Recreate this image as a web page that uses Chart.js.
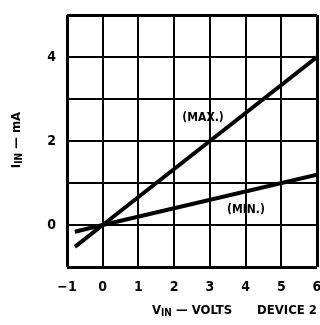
<!DOCTYPE html>
<html>
<head>
<meta charset="utf-8">
<script src="https://cdn.jsdelivr.net/npm/chart.js@4/dist/chart.umd.min.js"></script>
<style>
  html, body { margin: 0; background: #fff; }
  #wrap { width: 320px; height: 325px; }
</style>
</head>
<body>
<div id="wrap"><canvas id="chart"></canvas></div>
<script>
// curve data (volts vs mA)
const vinMax = [-0.78, 0, 6];
const iinMax = [-0.52, 0, 4];
const vinMin = [-0.78, 0, 6];
const iinMin = [-0.16, 0, 1.2];

const yTickLabels = [0, 2, 4];
const curveLabels = ['(MAX.)', '(MIN.)'];
const curveLabelAt = [[2.81, 2.54], [4.01, 0.36]];

const FONT = "'DejaVu Sans Condensed', 'DejaVu Sans', sans-serif";

const toPoints = (xs, ys) => xs.map((x, i) => ({ x: x, y: ys[i] }));

// draws a run of text parts (some subscripted) centred on cx
function drawRich(ctx, parts, cx, cy) {
    let total = 0;
    parts.forEach(p => {
        ctx.font = 'bold ' + p.size + 'px ' + FONT;
        p.w = ctx.measureText(p.t).width;
        total += p.w;
    });
    let x = cx - total / 2;
    parts.forEach(p => {
        ctx.font = 'bold ' + p.size + 'px ' + FONT;
        ctx.fillText(p.t, x, cy + (p.sub ? 2 : 0));
        x += p.w;
    });
}

const textPlugin = {
    id: 'texts',
    afterDraw(chart) {
        const ctx = chart.ctx;
        const xs = chart.scales.x, ys = chart.scales.y;
        ctx.save();
        ctx.fillStyle = '#000';
        ctx.textBaseline = 'middle';
        ctx.textAlign = 'center';
        ctx.font = 'bold 12px ' + FONT;
        curveLabels.forEach((t, i) => {
            ctx.fillText(t, xs.getPixelForValue(curveLabelAt[i][0]), ys.getPixelForValue(curveLabelAt[i][1]));
        });

        ctx.textAlign = 'left';
        ctx.textBaseline = 'alphabetic';
        // x axis title
        drawRich(ctx, [
            { t: 'V', size: 13 },
            { t: 'IN', size: 10, sub: true },
            { t: ' \u2014 VOLTS', size: 13 }
        ], 192, 314);
        ctx.font = 'bold 13px ' + FONT;
        ctx.textAlign = 'right';
        ctx.fillText('DEVICE 2', 317, 314);

        // y axis title, rotated
        ctx.translate(20, 140);
        ctx.rotate(-Math.PI / 2);
        ctx.textAlign = 'left';
        drawRich(ctx, [
            { t: 'I', size: 13 },
            { t: 'IN', size: 10, sub: true },
            { t: ' \u2014 mA', size: 13 }
        ], 0, 0);
        ctx.restore();
    }
};

const edgeWidth = (c) => (c.index === 0 || c.index === c.scale.ticks.length - 1) ? 3 : 2;

new Chart(document.getElementById('chart'), {
    type: 'scatter',
    data: {
        datasets: [
            { data: toPoints(vinMax, iinMax), showLine: true, borderColor: '#000', borderWidth: 4, pointRadius: 0 },
            { data: toPoints(vinMin, iinMin), showLine: true, borderColor: '#000', borderWidth: 4, pointRadius: 0 }
        ]
    },
    options: {
        responsive: true,
        maintainAspectRatio: false,
        animation: false,
        layout: { padding: { top: 15, right: 3, left: 0, bottom: 0 } },
        plugins: { legend: { display: false }, tooltip: { enabled: false } },
        scales: {
            x: {
                type: 'linear', min: -1, max: 6,
                afterFit: (s) => { s.height = 58; s.paddingLeft = 0; s.paddingRight = 0; },
                border: { display: false },
                grid: { color: '#000', lineWidth: edgeWidth, drawTicks: false },
                ticks: {
                    stepSize: 1, padding: 12, color: '#000',
                    font: { family: FONT, size: 14, weight: 'bold' },
                    callback: (v) => v < 0 ? '\u2212' + Math.abs(v) : String(v)
                }
            },
            y: {
                type: 'linear', min: -1, max: 5,
                afterFit: (s) => { s.width = 67; s.paddingTop = 0; s.paddingBottom = 0; },
                border: { display: false },
                grid: { color: '#000', lineWidth: edgeWidth, drawTicks: false },
                ticks: {
                    stepSize: 1, padding: 11, color: '#000',
                    font: { family: FONT, size: 14, weight: 'bold' },
                    callback: (v) => yTickLabels.includes(v) ? String(v) : ''
                }
            }
        }
    },
    plugins: [textPlugin]
});
</script>
</body>
</html>
